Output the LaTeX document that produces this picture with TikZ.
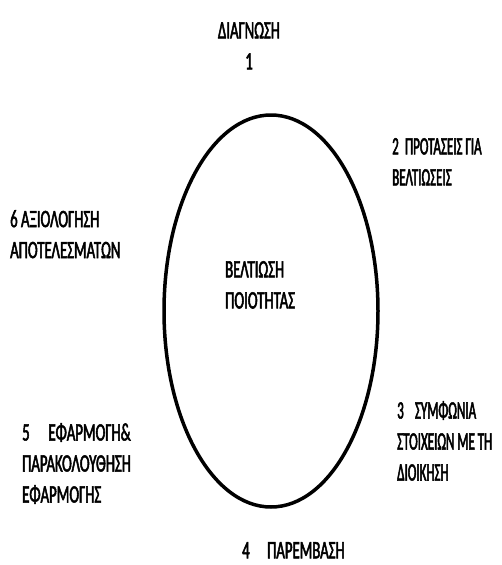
\documentclass[tikz,border=0pt]{standalone}
\usepackage{fontspec}
\setmainfont{Carlito}[FakeStretch=0.59, FakeBold=2]
\newfontfamily\stenos{Carlito}[FakeStretch=0.52, FakeBold=2]

\begin{document}
\begin{tikzpicture}[x=1pt,y=-1pt,
		every node/.style={inner sep=0pt, font=\fontsize{25}{31}\selectfont, align=left, anchor=north west},
		stenes/.style={font=\stenos\fontsize{25}{31}\selectfont, text width=110pt, align=flush left},
		kyklos/.style={line width=3.5pt}]
				\useasboundingbox (0,0) rectangle (502,565);
				\draw[kyklos] (271,311) ellipse [x radius=107, y radius=196];
				\node[anchor=north, align=center] (diagnosi) at (249,22) {ΔΙΑΓΝΩΣΗ\\1};
				\node[stenes] (protaseis) at (392,138) {2\hspace{0.25em}ΠΡΟΤΑΣΕΙΣ ΓΙΑ\\ΒΕΛΤΙΩΣΕΙΣ};
				\node[stenes] (symfonia) at (397,401) {3\hspace{0.45em}ΣΥΜΦΩΝΙΑ\\ΣΤΟΙΧΕΙΩΝ ΜΕ ΤΗ\\ΔΙΟΙΚΗΣΗ};
				\node (paremvasi) at (242,542) {4\hspace{0.7em}ΠΑΡΕΜΒΑΣΗ};
				\node (efarmogi) at (22,423) {5\hspace{0.75em}ΕΦΑΡΜΟΓΗ\&\\ΠΑΡΑΚΟΛΟΥΘΗΣΗ\\ΕΦΑΡΜΟΓΗΣ};
				\node (axiologisi) at (10,210) {6 ΑΞΙΟΛΟΓΗΣΗ\\ΑΠΟΤΕΛΕΣΜΑΤΩΝ};
				\node (veltiosi) at (225,261) {ΒΕΛΤΙΩΣΗ\\ΠΟΙΟΤΗΤΑΣ};
			\end{tikzpicture}
\end{document}
